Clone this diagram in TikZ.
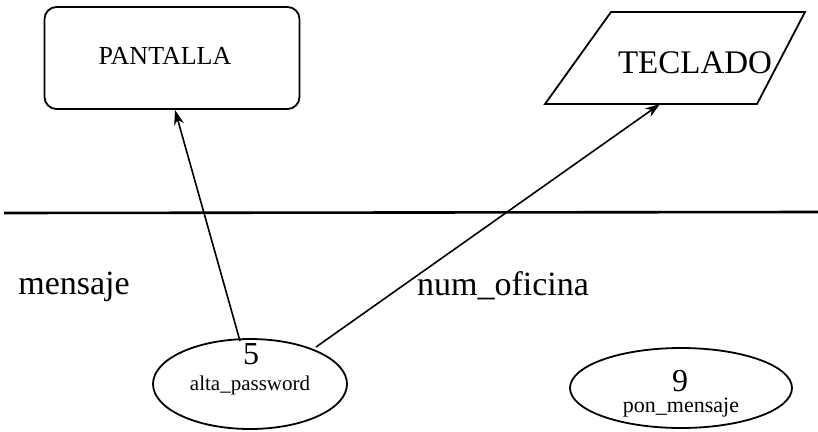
\documentclass[tikz,border=0pt]{standalone}
\usepackage{fontspec}
\setmainfont{Liberation Serif}
\usetikzlibrary{shapes.geometric,arrows.meta}
\begin{document}
\begin{tikzpicture}[x=1pt,y=-1pt,
  line width=1.8pt,
  ent/.style={draw,rounded corners=12pt,minimum width=255pt,minimum height=102pt,inner sep=0pt},
  proc/.style={draw,ellipse,inner sep=0pt,align=center},
  arr/.style={-{Stealth[length=15pt,width=10pt]},line width=1.6pt}]
\useasboundingbox (0,0) rectangle (818,431);
\node[ent] (pant) at (172,58) {};
\node[font=\fontsize{26}{26}\selectfont] (pantt) at (165,56) {PANTALLA};
\draw (611,12) coordinate (t1) -- (805,12) -- (757,104) -- (545,104) -- cycle;
\coordinate (tecb) at (660,104);
\node[font=\fontsize{33}{33}\selectfont] (tec) at (695,63) {TECLADO};
\coordinate (hl) at (4,213);
\coordinate (hr) at (818,212);
\draw[line width=2.6pt] (hl) -- (hr);
\node[font=\fontsize{34}{34}\selectfont] (men) at (74,287) {mensaje};
\node[font=\fontsize{34}{34}\selectfont] (num) at (503,286) {num\_oficina};
\node[proc,minimum width=194pt,minimum height=90pt] (p5) at (250,384) {};
\node[font=\fontsize{32}{32}\selectfont] (n5) at (251,354) {5};
\node[font=\fontsize{21}{21}\selectfont] (t5) at (250,385) {alta\_password};
\node[proc,minimum width=222pt,minimum height=80pt] (p9) at (681,388) {};
\node[font=\fontsize{32}{32}\selectfont] (n9) at (680,381) {9};
\node[font=\fontsize{22}{22}\selectfont] (t9) at (681,408) {pon\_mensaje};
\coordinate (a1) at (240,341);
\coordinate (a2) at (316,347);
\draw[arr] (a1) -- (175,110);
\draw[arr] (a2) -- (tecb);
\end{tikzpicture}
\end{document}
